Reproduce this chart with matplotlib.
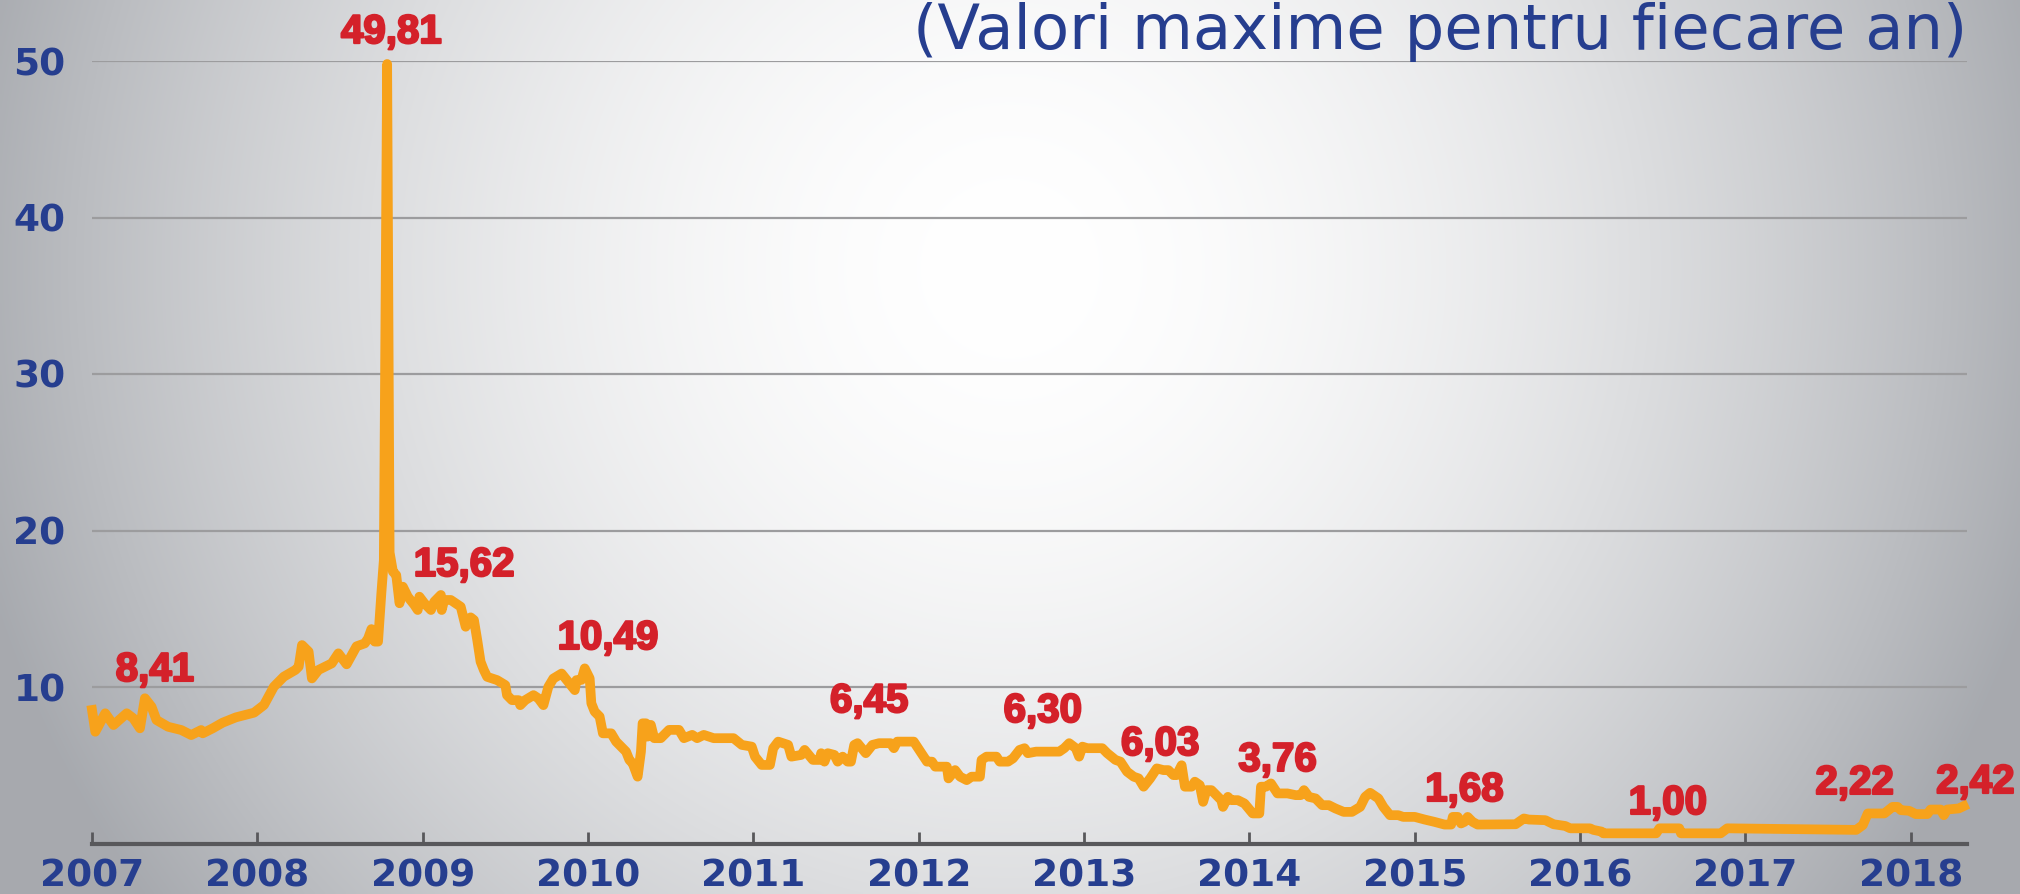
import numpy as np
import matplotlib
matplotlib.use("Agg")
import matplotlib.pyplot as plt
import matplotlib.patheffects as pe

# ROBOR-like rate (decimal year, value)
dates = [
    2007.00, 2007.02, 2007.08, 2007.13, 2007.21, 2007.25, 2007.29, 2007.32, 2007.36, 2007.39,
    2007.46, 2007.54, 2007.60, 2007.66, 2007.67, 2007.73, 2007.79, 2007.87, 2007.98,
    2008.04, 2008.10, 2008.16, 2008.23, 2008.25, 2008.27, 2008.31, 2008.33, 2008.37, 2008.45,
    2008.49, 2008.54, 2008.60, 2008.65, 2008.67, 2008.69, 2008.71, 2008.73, 2008.75, 2008.765,
    2008.785, 2008.80, 2008.82, 2008.84, 2008.86, 2008.88, 2008.91, 2008.95, 2008.97, 2008.98,
    2009.01, 2009.05, 2009.07, 2009.11, 2009.115, 2009.13, 2009.17, 2009.23, 2009.26, 2009.29,
    2009.31, 2009.33, 2009.35, 2009.37, 2009.39, 2009.45, 2009.50, 2009.51, 2009.54, 2009.58,
    2009.59, 2009.62, 2009.67, 2009.70, 2009.73, 2009.76, 2009.79, 2009.84, 2009.88, 2009.92,
    2009.93, 2009.96, 2009.98,
    2010.01, 2010.02, 2010.04, 2010.07, 2010.09, 2010.14, 2010.17, 2010.20, 2010.23, 2010.25,
    2010.27, 2010.30, 2010.32, 2010.33, 2010.35, 2010.36, 2010.38, 2010.40, 2010.44, 2010.49,
    2010.55, 2010.58, 2010.63, 2010.66, 2010.70, 2010.76, 2010.88, 2010.93, 2010.99,
    2011.01, 2011.05, 2011.10, 2011.12, 2011.15, 2011.21, 2011.23, 2011.29, 2011.31, 2011.36,
    2011.40, 2011.41, 2011.43, 2011.45, 2011.49, 2011.51, 2011.54, 2011.57, 2011.59, 2011.61,
    2011.63, 2011.68, 2011.72, 2011.76, 2011.83, 2011.85, 2011.87, 2011.97,
    2012.03, 2012.05, 2012.08, 2012.10, 2012.17, 2012.18, 2012.22, 2012.25, 2012.29, 2012.32,
    2012.37, 2012.38, 2012.41, 2012.47, 2012.49, 2012.54, 2012.57, 2012.61, 2012.64, 2012.66,
    2012.71, 2012.85, 2012.88, 2012.91, 2012.95, 2012.97, 2012.99,
    2013.02, 2013.11, 2013.14, 2013.19, 2013.22, 2013.26, 2013.30, 2013.33, 2013.36, 2013.40,
    2013.44, 2013.48, 2013.51, 2013.54, 2013.56, 2013.59, 2013.61, 2013.65, 2013.67, 2013.70,
    2013.72, 2013.74, 2013.77, 2013.83, 2013.84, 2013.87, 2013.89, 2013.93, 2013.97,
    2014.02, 2014.06, 2014.07, 2014.10, 2014.13, 2014.17, 2014.23, 2014.28, 2014.31, 2014.33,
    2014.36, 2014.40, 2014.44, 2014.48, 2014.52, 2014.57, 2014.62, 2014.67, 2014.70, 2014.73,
    2014.78, 2014.81, 2014.85, 2014.90, 2014.93,
    2015.00, 2015.06, 2015.12, 2015.18, 2015.22, 2015.23, 2015.26, 2015.28, 2015.30, 2015.32,
    2015.35, 2015.38, 2015.61, 2015.66, 2015.69, 2015.79, 2015.84, 2015.91, 2015.94,
    2016.06, 2016.08, 2016.13, 2016.14, 2016.46, 2016.48, 2016.60, 2016.61, 2016.85, 2016.89,
    2017.67, 2017.71, 2017.74, 2017.84, 2017.89, 2017.92, 2017.94, 2017.99,
    2018.03, 2018.10, 2018.12, 2018.18, 2018.20, 2018.22, 2018.29, 2018.32,
]
rates = [
    8.53, 7.14, 8.32, 7.57, 8.32, 8.00, 7.36, 9.28, 8.74, 7.89,
    7.46, 7.25, 6.93, 7.25, 7.04, 7.36, 7.72, 8.06, 8.36,
    8.85, 10.02, 10.66, 11.09, 11.30, 12.68, 12.26, 10.55, 11.09, 11.51,
    12.15, 11.45, 12.60, 12.79, 13.11, 13.70, 12.90, 12.90, 15.99, 18.10,
    49.81, 18.60, 17.37, 17.15, 15.35, 16.41, 15.77, 15.24, 14.92, 15.77,
    15.35, 14.92, 15.45, 15.88, 14.92, 15.56, 15.56, 15.13, 13.85, 14.45,
    14.28, 13.00, 11.62, 11.08, 10.65, 10.44, 10.12, 9.48, 9.16, 9.16,
    8.84, 9.16, 9.48, 9.27, 8.84, 10.01, 10.54, 10.86, 10.33, 9.80,
    10.44, 10.45, 11.19,
    10.55, 8.96, 8.43, 8.11, 7.04, 7.04, 6.51, 6.19, 5.87, 5.34,
    5.12, 4.27, 5.87, 7.68, 7.68, 6.83, 7.58, 6.73, 6.73, 7.26,
    7.26, 6.73, 6.94, 6.73, 6.94, 6.73, 6.73, 6.30, 6.19,
    5.55, 5.02, 5.02, 6.09, 6.51, 6.30, 5.55, 5.66, 5.98, 5.34,
    5.34, 5.77, 5.23, 5.77, 5.66, 5.23, 5.55, 5.23, 5.23, 6.30,
    6.41, 5.77, 6.30, 6.41, 6.41, 6.09, 6.51, 6.51,
    5.55, 5.23, 5.23, 4.91, 4.91, 4.16, 4.69, 4.27, 4.05, 4.27,
    4.27, 5.34, 5.55, 5.55, 5.23, 5.23, 5.44, 5.98, 6.09, 5.77,
    5.87, 5.87, 6.09, 6.41, 6.09, 5.55, 6.19,
    6.09, 6.09, 5.77, 5.34, 5.23, 4.59, 4.27, 4.16, 3.63, 4.16,
    4.80, 4.69, 4.69, 4.37, 4.37, 5.00, 3.63, 3.63, 3.95, 3.73,
    2.66, 3.41, 3.41, 2.77, 2.34, 2.98, 2.77, 2.77, 2.56,
    1.92, 1.92, 3.63, 3.63, 3.84, 3.20, 3.20, 3.09, 3.09, 3.41,
    2.98, 2.88, 2.45, 2.45, 2.24, 2.02, 2.02, 2.34, 2.98, 3.24,
    2.88, 2.34, 1.81, 1.81, 1.70,
    1.70, 1.53, 1.38, 1.21, 1.21, 1.70, 1.70, 1.28, 1.38, 1.70,
    1.38, 1.21, 1.23, 1.60, 1.53, 1.49, 1.23, 1.12, 0.97,
    0.97, 0.87, 0.76, 0.65, 0.65, 0.97, 0.97, 0.65, 0.65, 0.97,
    0.87, 1.18, 1.92, 1.92, 2.34, 2.34, 2.13, 2.09,
    1.88, 1.88, 2.17, 2.17, 1.81, 2.17, 2.24, 2.39,
]

# yearly maxima written on the chart
max_labels = ["8,41", "49,81", "15,62", "10,49", "6,45", "6,30",
              "6,03", "3,76", "1,68", "1,00", "2,22", "2,42"]
label_x = [2007.38, 2008.81, 2009.25, 2010.12, 2011.70, 2012.75,
           2013.46, 2014.17, 2015.30, 2016.53, 2017.66, 2018.39]
label_y = [11.09, 51.85, 17.8, 13.13, 9.1, 8.47,
           6.36, 5.34, 3.42, 2.59, 3.87, 3.93]

years = list(range(2007, 2019))
yticks = [10, 20, 30, 40, 50]
title = "(Valori maxime pentru fiecare an)"

blue = "#263e8f"
red = "#d4212a"
orange = "#f7a21b"

W, H = 2020, 894
fig = plt.figure(figsize=(W / 100, H / 100), dpi=100)

# radial grey background
bg = fig.add_axes([0, 0, 1, 1], zorder=-1)
nx, ny = 680, 300
X, Y = np.meshgrid(np.linspace(0, 1, nx), np.linspace(0, 1, ny))
t = np.sqrt(((X - 0.5) / 0.53) ** 2 + ((Y - 0.3) / 1.2) ** 2)
f = np.clip(t, 0, 1) ** 1.8
edge = np.array([0.655, 0.665, 0.685])
img = 1 - f[..., None] * (1 - edge)
bg.imshow(img, aspect="auto", extent=[0, 1, 0, 1], interpolation="bilinear")
bg.axis("off")

ax = fig.add_axes([92 / W, 1 - 843.5 / H, (1967 - 92) / W, (843.5 - 61) / H])
ax.set_facecolor("none")
ax.set_xlim(2007, 2018.34)
ax.set_ylim(0, 50)

ax.plot(dates, rates, color=orange, lw=7, clip_on=False, zorder=3)

ax.set_yticks(yticks)
ax.set_yticklabels([str(v) for v in yticks])
ax.set_xticks(years)
ax.set_xticklabels([str(y) for y in years])
ax.yaxis.grid(True, color="#9c9c9e", lw=1.6)
ax.set_axisbelow(True)

for s in ["top", "right", "left"]:
    ax.spines[s].set_visible(False)
ax.spines["bottom"].set_color("#58585b")
ax.spines["bottom"].set_linewidth(3)

ax.tick_params(axis="x", direction="in", length=9, width=2, color="#58585b", pad=11)
ax.tick_params(axis="y", length=0, pad=19)
for lab in ax.get_xticklabels() + ax.get_yticklabels():
    lab.set_fontfamily("DejaVu Sans")
    lab.set_fontweight("bold")
    lab.set_fontsize(27)
    lab.set_color(blue)

heavy = [pe.withStroke(linewidth=1.6, foreground=red)]
for txt, x, y in zip(max_labels, label_x, label_y):
    ax.text(x, y, txt, ha="center", va="center", fontsize=29, fontweight="bold",
            family="Liberation Sans", color=red, zorder=4, path_effects=heavy)

fig.text(1967 / W, 1 - 49 / H, title, ha="right", va="baseline",
         fontsize=45, color=blue, family="DejaVu Sans")

fig.savefig("out.png", dpi=100)
